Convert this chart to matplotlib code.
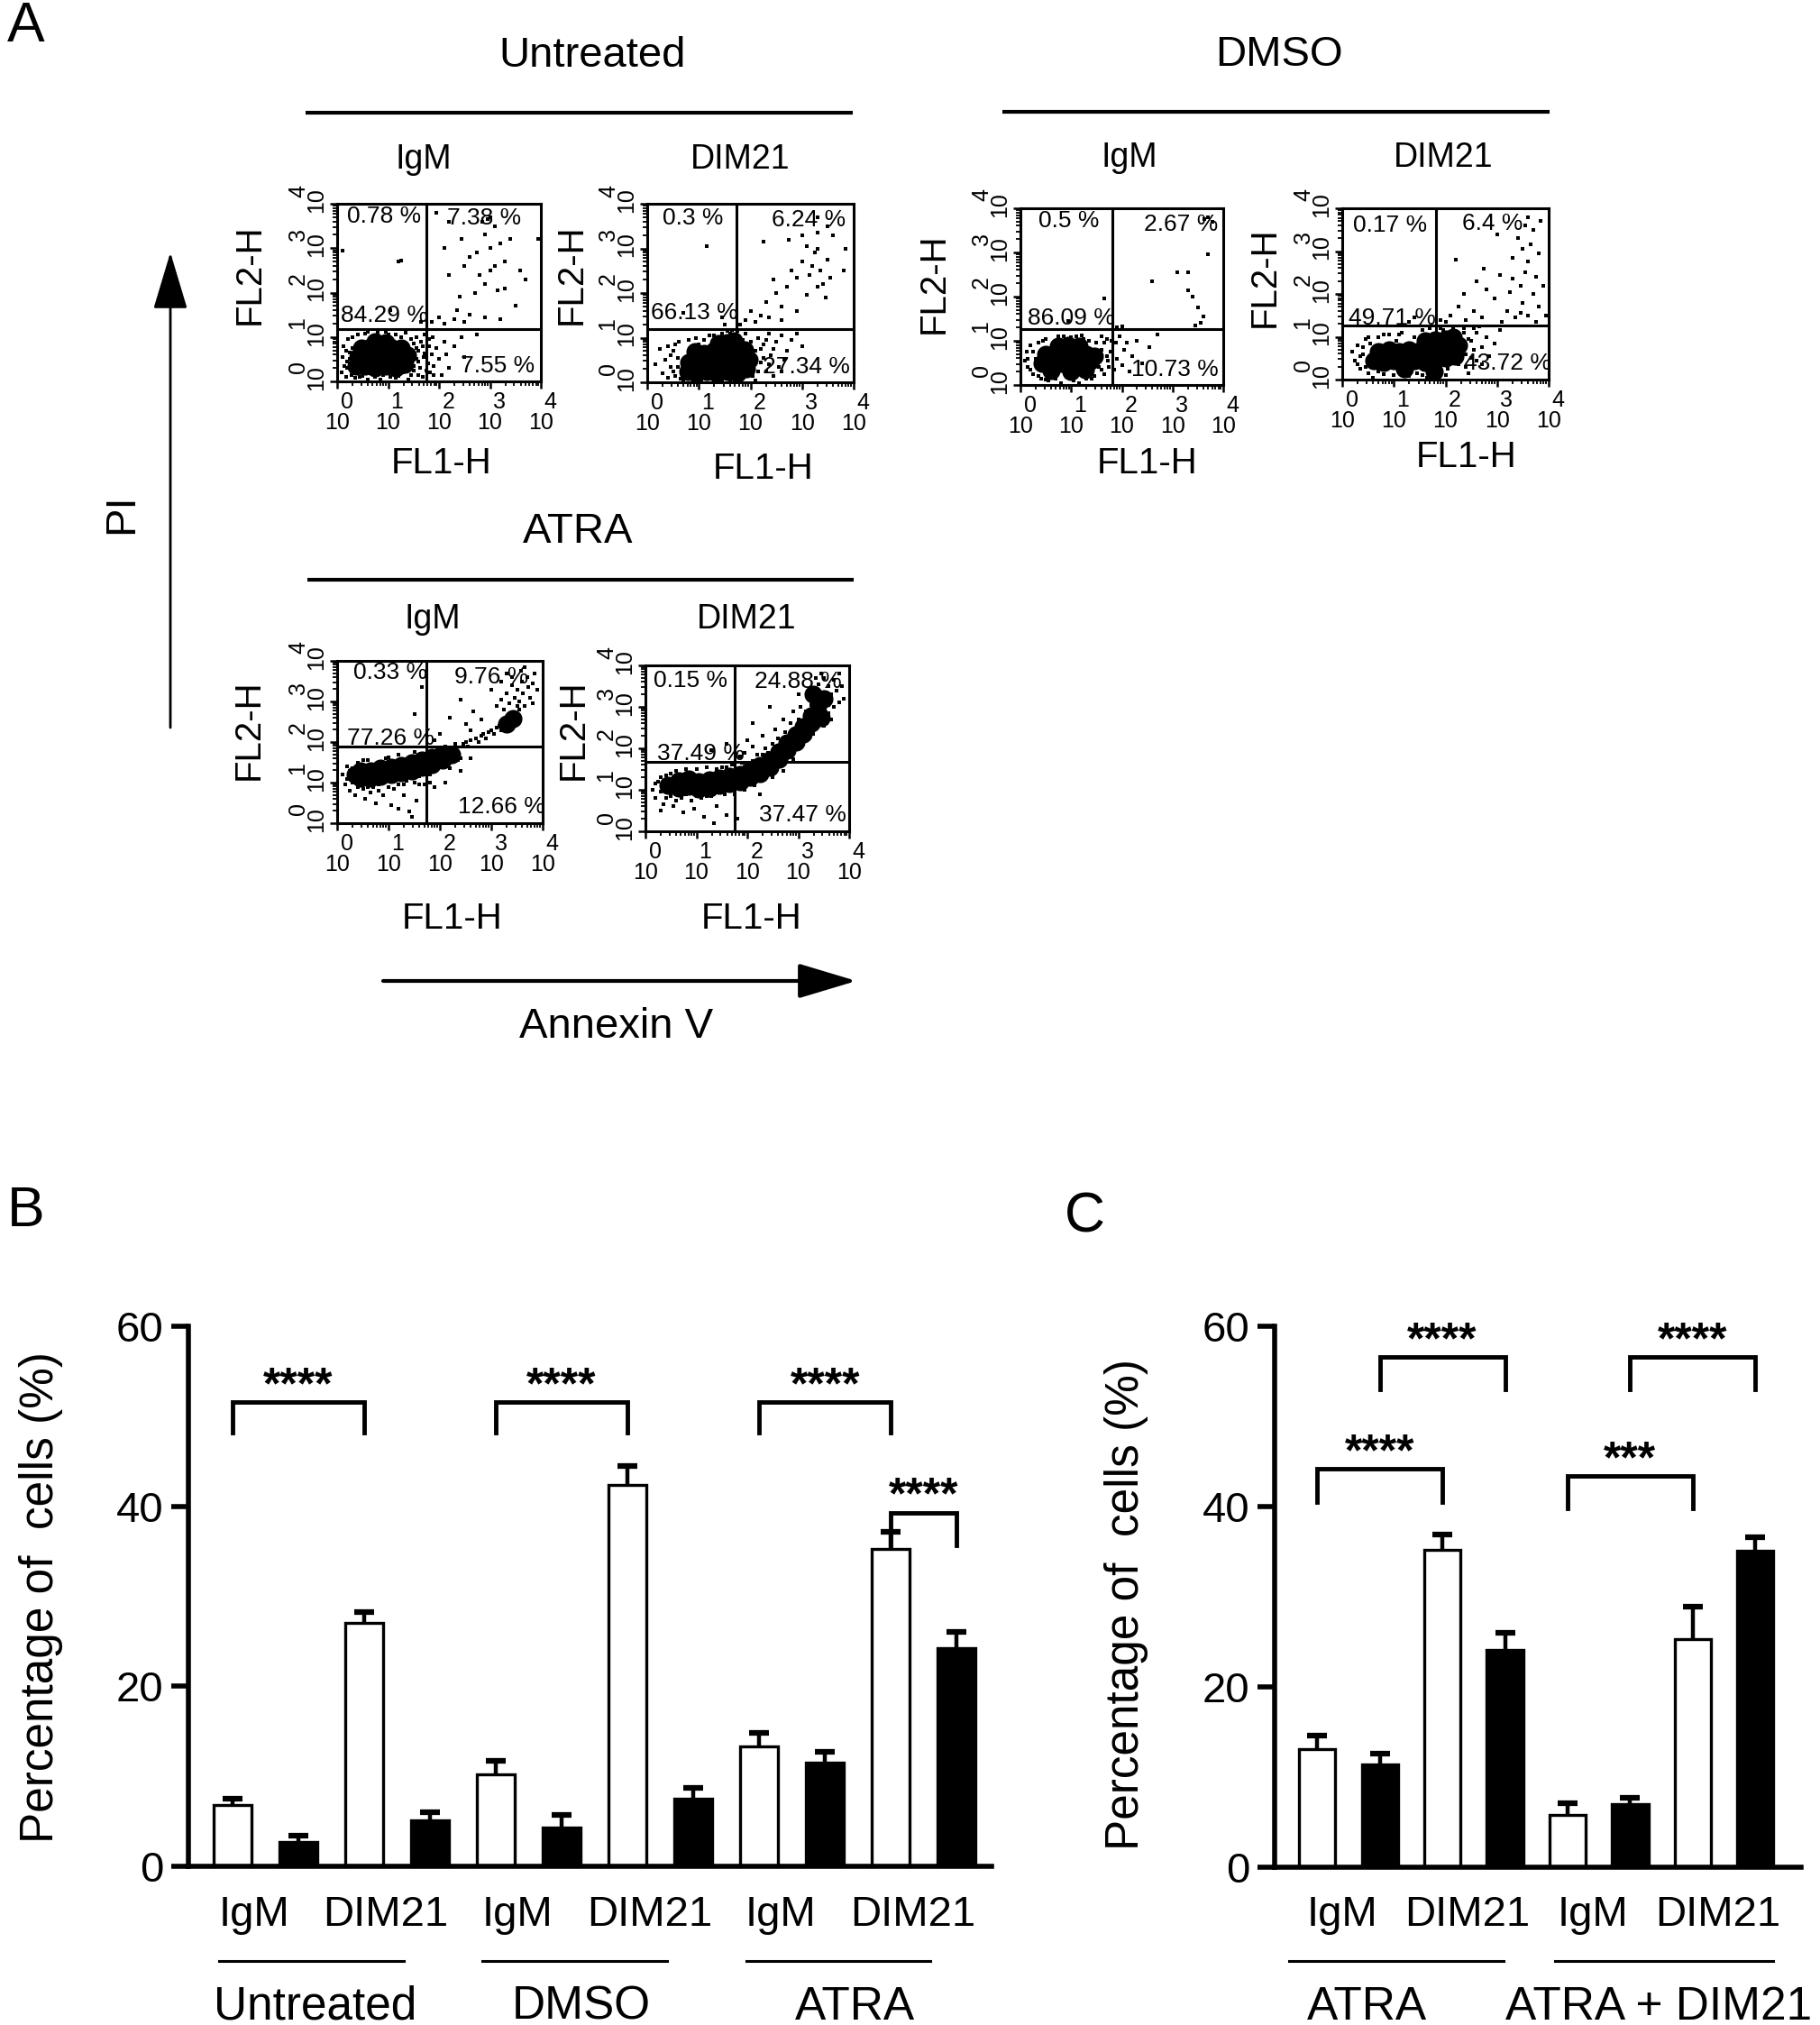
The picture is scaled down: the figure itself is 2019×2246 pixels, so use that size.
import numpy as np
import matplotlib
matplotlib.use("Agg")
import matplotlib.pyplot as plt
from matplotlib.lines import Line2D
from matplotlib.patches import FancyArrowPatch, ArrowStyle
from matplotlib.transforms import blended_transform_factory

plt.rcParams['font.family'] = ['Liberation Sans', 'DejaVu Sans']

W, H = 2019, 2246

# ---------------- panel A: dot plots (log10 units of FL1-H / FL2-H) ----------------
p1_core = [(0.38, 0.35), (0.55, 0.35), (0.75, 0.3), (0.95, 0.35), (1.15, 0.3), (1.32, 0.38),
           (0.4, 0.55), (0.6, 0.58), (0.8, 0.55), (1.0, 0.58), (1.2, 0.55), (1.38, 0.58),
           (0.48, 0.75), (0.65, 0.78), (0.85, 0.75), (1.05, 0.78), (1.25, 0.75),
           (0.75, 0.9), (0.95, 0.88)]
p1_dots = [(0.08, 0.2), (0.1, 0.55), (0.12, 0.8), (0.18, 0.1), (0.2, 0.45), (0.22, 0.95), (0.25, 0.65),
           (0.28, 0.15), (0.3, 1.0), (0.35, 0.08), (0.4, 1.05), (0.5, 0.12), (0.55, 1.08), (0.6, 0.05),
           (0.65, 0.18), (0.75, 0.1), (0.8, 1.1), (0.9, 0.15), (1.0, 1.05), (1.05, 0.1), (1.2, 0.12),
           (1.25, 1.0), (1.3, 0.2), (1.35, 1.1), (1.45, 0.15), (1.5, 0.85), (1.5, 0.25), (1.55, 0.5),
           (1.55, 1.0), (1.6, 0.7), (1.62, 0.3), (1.65, 0.9), (1.68, 0.1), (1.7, 0.55), (1.72, 1.05),
           (1.78, 0.4), (1.8, 0.8), (1.82, 0.2), (1.85, 0.6), (1.88, 1.0), (1.9, 0.35), (1.95, 0.75),
           (2.0, 0.5), (2.05, 0.15), (2.1, 0.9), (2.15, 0.6), (2.3, 0.8), (2.45, 1.0), (2.5, 0.55),
           (2.75, 1.05), (1.75, 0.25), (1.45, 0.45), (0.15, 0.35), (0.3, 0.75), (1.6, 0.15),
           (0.2, 0.3), (0.25, 0.5), (0.3, 0.2), (1.5, 0.35), (1.55, 0.75), (1.45, 0.95), (0.45, 0.1),
           (0.85, 0.05), (1.15, 0.08), (1.4, 0.05), (0.18, 0.7), (1.6, 0.45), (1.68, 0.8), (1.72, 0.62),
           (1.8, 0.95), (1.9, 0.15), (0.6, 1.12), (0.95, 1.12), (1.15, 1.05), (2.2, 0.3),
           (0.1, 2.95), (1.2, 2.7), (1.25, 2.72), (1.05, 1.6), (1.65, 1.35),
           (1.85, 1.35), (2.0, 1.45), (2.1, 1.3), (2.3, 1.4), (2.5, 1.35), (2.6, 1.5), (2.9, 1.45),
           (3.2, 1.4), (2.4, 1.9), (2.7, 2.0), (2.9, 2.2), (3.0, 2.5), (2.8, 2.4), (3.1, 2.6),
           (3.3, 2.7), (2.5, 2.6), (2.2, 2.4), (2.6, 2.8), (3.0, 3.0), (3.2, 3.1), (2.9, 3.3),
           (3.1, 3.5), (2.85, 3.6), (3.4, 3.2), (3.6, 2.5), (3.7, 2.3), (3.95, 3.2), (2.2, 3.6),
           (2.1, 3.0), (3.3, 2.1), (3.5, 1.7), (1.95, 3.8), (3.0, 3.7), (2.95, 3.65), (2.45, 3.2),
           (2.75, 2.9), (3.15, 2.05), (2.35, 1.6)]

p2_core = [(0.78, 0.25), (0.95, 0.2), (1.15, 0.25), (1.35, 0.2), (1.55, 0.25), (1.75, 0.2), (1.92, 0.3),
           (0.8, 0.45), (1.0, 0.48), (1.2, 0.45), (1.4, 0.48), (1.6, 0.45), (1.8, 0.48), (1.98, 0.5),
           (0.92, 0.68), (1.1, 0.65), (1.3, 0.7), (1.5, 0.68), (1.7, 0.7), (1.88, 0.72),
           (1.55, 0.88), (1.68, 0.92), (1.38, 0.86)]
p2_dots = [(0.3, 0.2), (0.35, 0.5), (0.4, 0.1), (0.45, 0.35), (0.5, 0.7), (0.55, 0.15), (0.6, 0.55),
           (0.62, 0.9), (0.7, 0.05), (0.8, 0.95), (0.85, 0.1), (0.95, 1.0), (1.05, 0.05), (1.1, 0.95),
           (1.2, 1.05), (1.25, 0.08), (1.4, 1.0), (1.45, 0.05), (1.6, 1.1), (1.7, 1.05), (1.75, 1.15),
           (1.8, 0.08), (1.85, 0.95), (1.9, 1.1), (2.0, 0.9), (2.05, 0.15), (2.1, 0.7), (2.15, 1.0),
           (2.2, 0.45), (2.25, 0.85), (2.3, 0.25), (2.35, 1.1), (2.4, 0.6), (2.5, 0.9), (2.55, 0.35),
           (2.6, 1.05), (2.7, 0.7), (2.8, 0.95), (2.9, 1.1), (3.0, 0.8), (0.15, 0.4), (0.25, 0.75),
           (2.45, 0.15), (2.65, 0.5), (1.0, 0.85),
           (0.45, 0.6), (0.5, 0.25), (0.55, 0.85), (0.6, 0.35), (0.65, 0.08), (2.15, 0.25), (2.2, 0.75),
           (2.25, 0.55), (2.3, 0.95), (2.35, 0.4), (1.45, 1.1), (1.55, 1.15), (1.65, 1.18), (1.3, 1.05),
           (1.0, 0.05), (1.6, 0.05), (2.1, 0.05), (0.4, 0.8), (2.45, 0.75), (2.6, 0.25),
           (1.15, 3.05), (0.7, 1.55), (1.5, 1.3), (1.45, 1.45),
           (1.8, 1.3), (1.9, 1.4), (2.0, 1.6), (2.1, 1.35), (2.2, 1.5), (2.3, 1.8), (2.35, 1.45),
           (2.5, 2.0), (2.45, 2.3), (2.6, 1.7), (2.7, 2.15), (2.8, 2.5), (2.9, 2.35), (3.0, 2.7),
           (3.0, 3.3), (2.75, 3.2), (3.1, 3.05), (3.3, 3.35), (3.25, 2.9), (3.15, 2.4), (3.35, 2.5),
           (3.4, 2.2), (3.5, 2.75), (3.55, 2.35), (3.6, 3.3), (3.8, 2.5), (3.85, 3.0), (2.25, 3.15),
           (3.2, 2.6), (3.3, 2.15), (3.45, 1.9), (3.1, 1.95), (2.6, 1.4), (2.9, 1.6), (3.3, 3.0),
           (3.5, 3.5), (3.3, 3.7)]

p3_core = [(0.42, 0.5), (0.6, 0.45), (0.8, 0.5), (1.0, 0.45), (1.2, 0.5), (1.38, 0.55),
           (0.5, 0.7), (0.7, 0.72), (0.9, 0.7), (1.1, 0.72), (1.3, 0.7), (1.45, 0.65),
           (0.75, 0.88), (0.95, 0.9), (1.15, 0.88), (0.6, 0.32), (1.0, 0.3), (1.28, 0.35)]
p3_dots = [(0.08, 0.55), (0.12, 0.75), (0.15, 0.4), (0.2, 0.9), (0.25, 0.25), (0.3, 0.6), (0.35, 0.95),
           (0.4, 0.15), (0.5, 1.05), (0.55, 0.1), (0.7, 0.15), (0.75, 1.1), (0.8, 0.05), (0.9, 0.18),
           (1.0, 1.08), (1.05, 0.1), (1.15, 0.05), (1.2, 1.12), (1.3, 0.15), (1.35, 1.0), (1.45, 0.2),
           (1.5, 0.95), (1.55, 0.4), (1.6, 0.8), (1.65, 0.25), (1.7, 1.05), (1.72, 0.55), (1.78, 0.75),
           (1.85, 0.35), (1.88, 0.95), (1.9, 0.6), (1.95, 1.1), (2.0, 0.45), (2.05, 0.8), (2.15, 0.3),
           (2.2, 0.65), (2.3, 1.0), (2.4, 0.5), (2.55, 0.85), (1.1, 0.25), (0.65, 0.2), (1.6, 1.1),
           (2.7, 1.15),
           (0.2, 0.35), (0.25, 0.75), (0.3, 0.45), (0.35, 0.2), (0.45, 1.0), (1.55, 0.6), (1.6, 0.35),
           (1.65, 0.95), (1.7, 0.65), (0.85, 1.1), (1.1, 1.1), (1.4, 0.15), (0.5, 0.12), (1.25, 1.05),
           (1.75, 0.4), (1.8, 1.0), (2.1, 0.95), (0.15, 0.6),
           (0.95, 1.45), (1.65, 1.95),
           (1.9, 1.3), (2.0, 1.32), (2.6, 2.35), (3.1, 2.55), (3.3, 2.15), (3.4, 2.0), (3.7, 2.95),
           (3.5, 1.75), (3.45, 1.35), (3.55, 1.4), (3.6, 1.55), (3.7, 3.8), (3.62, 3.75), (3.78, 3.7),
           (3.3, 2.55)]

p4_core = [(0.62, 0.45), (0.8, 0.4), (1.0, 0.45), (1.2, 0.4), (1.4, 0.45), (1.6, 0.4), (1.8, 0.45),
           (2.0, 0.5), (2.18, 0.55), (0.7, 0.65), (0.9, 0.7), (1.1, 0.65), (1.3, 0.7), (1.5, 0.68),
           (1.7, 0.72), (1.9, 0.7), (2.1, 0.75), (2.25, 0.8), (1.6, 0.9), (1.8, 0.92), (2.0, 0.95),
           (1.78, 0.2), (1.2, 0.25), (2.15, 1.0)]
p4_dots = [(0.2, 0.65), (0.25, 0.45), (0.3, 0.8), (0.35, 0.25), (0.4, 0.6), (0.45, 0.95), (0.5, 0.15),
           (0.55, 0.85), (0.6, 0.05), (0.7, 1.0), (0.8, 0.12), (0.9, 1.05), (1.0, 0.1), (1.05, 0.9),
           (1.15, 1.1), (1.3, 0.08), (1.4, 1.0), (1.45, 0.15), (1.55, 1.15), (1.65, 0.05), (1.7, 1.2),
           (1.8, 0.02), (1.95, 1.15), (2.05, 0.25), (2.15, 1.2), (2.25, 0.35), (2.35, 1.1), (2.4, 0.6),
           (2.5, 0.9), (2.55, 1.2), (2.6, 0.45), (2.7, 0.75), (2.8, 1.0), (2.85, 0.55), (2.95, 0.85),
           (3.05, 1.15), (2.45, 0.15), (0.95, 0.3), (1.35, 0.25), (2.65, 1.25),
           (0.3, 0.35), (0.35, 0.55), (0.4, 0.75), (0.45, 0.3), (0.5, 1.0), (2.4, 0.3), (2.45, 0.95),
           (2.5, 0.5), (2.55, 0.7), (2.6, 1.1), (2.7, 0.35), (2.35, 1.2), (1.9, 1.2), (1.1, 1.05),
           (0.8, 1.05), (1.55, 0.1), (1.85, 0.05), (2.0, 0.1), (1.25, 0.1), (0.7, 0.2),
           (1.3, 1.35), (1.4, 1.45),
           (1.9, 1.4), (2.0, 1.35), (2.1, 1.5), (2.25, 1.7), (2.4, 1.4), (2.55, 1.6), (2.7, 1.45),
           (2.35, 2.0), (2.6, 2.3), (2.75, 2.6), (2.8, 2.1), (2.2, 2.8), (2.95, 1.9), (3.05, 2.45),
           (3.1, 1.35), (3.2, 1.6), (3.25, 2.05), (3.3, 2.85), (3.35, 1.45), (3.4, 3.3), (3.45, 2.2),
           (3.5, 1.8), (3.5, 3.05), (3.55, 2.5), (3.55, 3.6), (3.6, 1.5), (3.6, 2.75), (3.65, 3.15),
           (3.7, 2.0), (3.7, 3.5), (3.75, 2.4), (3.8, 2.95), (3.8, 1.7), (3.85, 3.7), (3.9, 2.2),
           (3.6, 3.8), (3.75, 1.35), (3.45, 1.55), (3.0, 3.4), (3.95, 1.5), (3.3, 2.35)]

p5_core = [(0.45, 1.12), (0.45, 1.28), (0.65, 1.12), (0.65, 1.3), (0.85, 1.15), (0.85, 1.35),
           (1.05, 1.2), (1.05, 1.38), (1.25, 1.25), (1.25, 1.43), (1.45, 1.3), (1.45, 1.48),
           (1.65, 1.38), (1.65, 1.55), (1.85, 1.45), (1.85, 1.62), (2.05, 1.55), (2.05, 1.7),
           (2.22, 1.7), (0.35, 1.2), (3.3, 2.45), (3.42, 2.58)]
p5_dots = [(0.1, 1.2), (0.15, 0.95), (0.2, 1.4), (0.25, 0.8), (0.3, 1.0), (0.35, 0.7), (0.4, 1.5),
           (0.5, 0.85), (0.55, 0.6), (0.6, 1.55), (0.7, 0.9), (0.75, 0.5), (0.8, 0.95), (0.9, 0.7),
           (0.95, 1.6), (1.0, 0.9), (1.05, 0.45), (1.1, 0.85), (1.2, 0.95), (1.3, 0.7), (1.35, 1.05),
           (1.4, 0.3), (1.5, 1.0), (1.55, 0.55), (1.6, 1.15), (1.7, 0.95), (1.75, 1.7), (1.8, 1.2),
           (1.9, 1.3), (1.95, 1.85), (2.0, 1.4), (2.1, 1.9), (2.15, 1.5), (2.3, 1.95), (2.35, 1.55),
           (1.45, 0.15), (1.2, 0.35), (0.65, 0.75),
           (0.2, 1.1), (0.3, 1.35), (0.4, 0.9), (0.5, 1.55), (0.6, 0.9), (0.8, 0.8), (1.0, 1.62),
           (1.2, 1.7), (1.3, 0.95), (1.5, 1.75), (1.6, 0.95), (1.8, 1.0), (2.2, 1.35), (2.4, 1.6),
           (0.9, 1.0), (0.25, 1.3),
           (2.45, 1.95), (2.5, 2.0), (2.55, 1.9), (2.6, 2.05), (2.7, 2.1), (2.75, 2.0), (2.8, 2.15),
           (2.85, 2.2), (2.9, 2.1), (2.95, 2.25), (3.0, 2.3), (3.05, 2.2), (3.1, 2.35), (3.15, 2.4),
           (3.2, 2.3), (3.55, 2.8), (3.5, 2.9),
           (3.1, 2.9), (3.2, 3.05), (3.25, 2.8), (3.3, 3.2), (3.35, 2.95), (3.4, 3.4), (3.45, 3.1),
           (3.5, 3.3), (3.55, 3.0), (3.6, 3.5), (3.62, 3.2), (3.65, 2.9), (3.7, 3.6), (3.72, 3.35),
           (3.75, 3.1), (3.8, 3.45), (3.85, 3.7), (3.9, 3.3), (3.4, 3.6), (3.58, 3.75), (3.3, 3.7),
           (3.65, 3.85), (3.2, 3.5), (3.8, 2.95),
           (2.0, 2.2), (2.2, 2.6), (2.5, 2.45), (2.65, 2.75), (2.8, 2.55), (2.4, 3.05), (3.0, 3.3),
           (2.6, 2.3), (1.9, 2.05), (1.5, 2.7), (1.65, 3.35),
           (1.9, 0.9), (2.1, 1.0), (2.4, 1.3), (2.6, 1.6)]

p6_core = [(0.45, 1.1), (0.65, 1.05), (0.65, 1.22), (0.85, 1.08), (0.85, 1.26), (1.05, 1.02),
           (1.05, 1.2), (1.25, 1.05), (1.25, 1.24), (1.45, 1.1), (1.45, 1.28), (1.65, 1.15),
           (1.65, 1.33), (1.85, 1.2), (1.85, 1.38), (2.05, 1.3), (2.05, 1.48), (2.25, 1.4),
           (2.25, 1.58), (2.45, 1.55), (2.45, 1.72), (2.62, 1.75), (2.62, 1.92), (2.78, 1.95),
           (2.78, 2.12), (2.95, 2.15), (2.95, 2.32), (3.1, 2.35), (3.1, 2.52), (3.25, 2.6),
           (3.25, 2.78), (3.38, 2.9), (3.4, 3.08), (3.45, 2.75), (3.5, 3.2), (3.3, 3.3)]
p6_dots = [(0.15, 1.0), (0.2, 0.8), (0.25, 1.2), (0.3, 0.95), (0.35, 0.65), (0.4, 1.35), (0.5, 0.85),
           (0.55, 0.6), (0.6, 1.45), (0.7, 0.8), (0.75, 0.45), (0.8, 1.5), (0.9, 0.75), (0.95, 0.55),
           (1.0, 1.5), (1.1, 0.8), (1.15, 0.35), (1.2, 1.55), (1.3, 0.85), (1.4, 0.6), (1.5, 1.55),
           (1.55, 0.9), (1.6, 0.4), (1.7, 1.6), (1.75, 0.9), (1.8, 0.3), (1.95, 1.0), (2.0, 1.65),
           (2.15, 1.1), (2.3, 1.25), (2.4, 1.9), (2.55, 1.45), (2.7, 1.6), (2.85, 1.85), (2.25, 0.9),
           (1.35, 0.2), (0.3, 0.5),
           (0.2, 1.15), (0.3, 1.3), (0.4, 0.8), (0.5, 1.4), (0.6, 0.75), (0.8, 0.9), (1.0, 0.85),
           (1.2, 0.85), (1.4, 1.5), (1.6, 1.55), (1.9, 1.65), (2.1, 1.7), (2.3, 1.85), (2.5, 1.3),
           (2.7, 1.45), (2.9, 1.75), (3.0, 2.05), (3.15, 2.25), (3.3, 2.35), (3.5, 2.55), (3.6, 3.05),
           (3.25, 3.45),
           (1.85, 1.8), (1.95, 1.9), (2.0, 2.2), (2.1, 2.05), (2.2, 1.85), (2.3, 2.3), (2.35, 2.0),
           (2.5, 2.1), (2.55, 2.45), (2.6, 2.25), (2.7, 2.7), (2.75, 2.4), (2.85, 2.6), (2.9, 2.9),
           (3.0, 2.7), (3.05, 3.0), (3.15, 2.9), (3.2, 3.2), (3.25, 3.05), (3.3, 3.4), (3.35, 3.25),
           (3.4, 3.55), (3.45, 3.35), (3.5, 3.0), (3.5, 3.7), (3.55, 3.2), (3.6, 2.85), (3.6, 3.5),
           (3.65, 3.3), (3.7, 3.0), (3.7, 3.65), (3.75, 3.4), (3.8, 3.1), (3.8, 3.8), (3.85, 3.5),
           (3.55, 2.6), (3.65, 2.7), (3.3, 2.5), (3.0, 3.3), (2.45, 3.0), (2.1, 2.6), (3.9, 3.2),
           (3.45, 3.8), (3.35, 3.7), (1.3, 1.95), (1.6, 2.1)]

# quadrant gates (log10 units)
gate_x = [1.76, 1.73, 1.81, 1.81, 1.74, 1.76]
gate_y = [1.18, 1.20, 1.26, 1.26, 1.88, 1.68]

# quadrant percentages: upper-left, upper-right, lower-left, lower-right
pct_untreated_igm = ["0.78 %", "7.38 %", "84.29 %", "7.55 %"]
pct_untreated_dim = ["0.3 %", "6.24 %", "66.13 %", "27.34 %"]
pct_dmso_igm = ["0.5 %", "2.67 %", "86.09 %", "10.73 %"]
pct_dmso_dim = ["0.17 %", "6.4 %", "49.71 %", "43.72 %"]
pct_atra_igm = ["0.33 %", "9.76 %", "77.26 %", "12.66 %"]
pct_atra_dim = ["0.15 %", "24.88 %", "37.49 %", "37.47 %"]

# ---------------- panels B / C: bar data ----------------
b_vals = [6.8, 2.7, 27.0, 5.1, 10.2, 4.3, 42.4, 7.5, 13.3, 11.5, 35.3, 24.2]
b_errs = [0.7, 0.7, 1.2, 0.9, 1.5, 1.4, 2.1, 1.2, 1.5, 1.2, 1.9, 1.8]
b_groups = ["Untreated", "DMSO", "ATRA"]
c_vals = [13.1, 11.4, 35.2, 24.1, 5.8, 7.0, 25.3, 35.1]
c_errs = [1.5, 1.2, 1.7, 1.9, 1.3, 0.7, 3.6, 1.5]
c_groups = ["ATRA", "ATRA + DIM21"]
pair_labels = ["IgM", "DIM21"]
# (bar i, bar j, bracket top, bracket foot, stars)
b_sig = [(0, 2, 51.6, 48.2, "****"), (4, 6, 51.6, 48.2, "****"),
         (8, 10, 51.6, 48.2, "****"), (10, 11, 39.3, 35.7, "****")]
c_sig = [(0, 2, 44.2, 40.5, "****"), (1, 3, 56.6, 53.0, "****"),
         (4, 6, 43.4, 39.8, "***"), (5, 7, 56.6, 53.0, "****")]

fig = plt.figure(figsize=(W / 100, H / 100), dpi=100)


def fx(x):
    return x / W


def fy(y):
    return 1 - y / H


def ax_px(x0, y0, x1, y1):
    return fig.add_axes([fx(x0), fy(y1), (x1 - x0) / W, (y1 - y0) / H])


def fig_line(x0, y0, x1, y1, lw):
    fig.add_artist(Line2D([fx(x0), fx(x1)], [fy(y0), fy(y1)], transform=fig.transFigure,
                          color="black", lw=lw, solid_capstyle="butt"))


def fig_text(x, y, s, size, **kw):
    fig.text(fx(x), fy(y), s, fontsize=size, ha="center", va="center", **kw)


def draw_dotplot(ax, core, dots, gx, gy, pcts, pct_pos):
    cx, cy = np.array(core).T
    dx, dy = np.array(dots).T
    ax.scatter(cx, cy, s=210, marker="o", c="black", linewidths=0)
    ax.scatter(dx, dy, s=7, marker="s", c="black", linewidths=0)
    ax.axvline(gx, color="black", lw=2.2)
    ax.axhline(gy, color="black", lw=2.2)
    ax.set_xlim(0, 4)
    ax.set_ylim(0, 4)
    for s in ax.spines.values():
        s.set_linewidth(2.2)
    minor = [np.log10(m) + k for k in range(4) for m in range(2, 10)]
    ax.set_xticks(range(5))
    ax.set_yticks(range(5))
    ax.set_xticks(minor, minor=True)
    ax.set_yticks(minor, minor=True)
    ax.set_xticklabels([f"   {k}\n10" for k in range(5)], fontsize=18, linespacing=0.95)
    ax.set_yticklabels([f"   {k}\n10" for k in range(5)], fontsize=18, linespacing=0.75)
    ax.tick_params(axis="y", labelrotation=90)
    for tl in ax.get_yticklabels():
        tl.set_multialignment("center")
    ax.tick_params(which="major", direction="out", length=6, width=1.8, pad=2)
    ax.tick_params(which="minor", direction="out", length=3.5, width=1.3)
    for txt, (px, py) in zip(pcts, pct_pos):
        ax.text(px, py, txt, transform=ax.transAxes, fontsize=19, ha="center", va="center")


# ---------- panel A ----------
fig_text(29, 29, "A", 45)
fig_text(657, 62, "Untreated", 34)
fig_line(339, 125, 946, 125, 3)
fig_text(1419, 61, "DMSO", 34)
fig_line(1112, 124, 1719, 124, 3)
fig_text(641, 590, "ATRA", 34)
fig_line(341, 643, 947, 643, 3)

for (x, y, s) in [(470, 177, "IgM"), (821, 177, "DIM21"), (1253, 175, "IgM"),
                  (1601, 175, "DIM21"), (480, 687, "IgM"), (828, 687, "DIM21")]:
    fig_text(x, y, s, 27)
for (x, y) in [(277, 304), (634, 304), (1036, 314), (1403, 307), (276, 809), (636, 809)]:
    fig_text(x, y, "FL2-H", 29, rotation=90)
for (x, y) in [(490, 514), (847, 520), (1273, 514), (1627, 507), (502, 1019), (834, 1019)]:
    fig_text(x, y, "FL1-H", 29)

plots = [
    ((374, 226, 600, 423), p1_core, p1_dots, pct_untreated_igm,
     [(0.23, 0.93), (0.72, 0.92), (0.23, 0.37), (0.79, 0.085)]),
    ((718, 226, 947, 424), p2_core, p2_dots, pct_untreated_dim,
     [(0.22, 0.92), (0.78, 0.91), (0.23, 0.39), (0.77, 0.085)]),
    ((1132, 231, 1357, 427), p3_core, p3_dots, pct_dmso_igm,
     [(0.24, 0.93), (0.79, 0.91), (0.25, 0.38), (0.76, 0.085)]),
    ((1489, 231, 1718, 421), p4_core, p4_dots, pct_dmso_dim,
     [(0.23, 0.9), (0.73, 0.91), (0.24, 0.36), (0.8, 0.095)]),
    ((374, 733, 602, 913), p5_core, p5_dots, pct_atra_igm,
     [(0.26, 0.93), (0.75, 0.9), (0.26, 0.52), (0.8, 0.1)]),
    ((716, 738, 942, 922), p6_core, p6_dots, pct_atra_dim,
     [(0.22, 0.91), (0.75, 0.9), (0.27, 0.47), (0.77, 0.1)]),
]
for i, (box, core, dots, pcts, pos) in enumerate(plots):
    ax = ax_px(*box)
    draw_dotplot(ax, core, dots, gate_x[i], gate_y[i], pcts, pos)

# PI / Annexin V arrows
arrow_style = ArrowStyle("-|>", head_length=1.0, head_width=0.3)
fig.add_artist(FancyArrowPatch((fx(189), fy(807)), (fx(189), fy(280)), transform=fig.transFigure,
                               arrowstyle=arrow_style, mutation_scale=40, lw=2, color="black",
                               shrinkA=0, shrinkB=0))
fig_text(135, 570, "PI", 34, rotation=90)
fig.add_artist(FancyArrowPatch((fx(425), fy(1088)), (fx(950), fy(1088)), transform=fig.transFigure,
                               arrowstyle=arrow_style, mutation_scale=40, lw=3, color="black",
                               shrinkA=0, shrinkB=0))
fig_text(684, 1139, "Annexin V", 34)


# ---------- panels B and C ----------
def draw_bars(ax, vals, errs, sig, xlim):
    x = np.arange(len(vals))
    fills = ["white" if i % 2 == 0 else "black" for i in range(len(vals))]
    ax.bar(x, vals, width=0.58, color=fills, edgecolor="black", linewidth=2.4, zorder=2)
    _, caps, _ = ax.errorbar(x, vals, yerr=[np.zeros(len(errs)), errs], fmt="none", ecolor="black",
                             elinewidth=3.2, capsize=8, capthick=4.5, zorder=3)
    for cl in caps:
        if np.allclose(cl.get_ydata(), vals):
            cl.set_visible(False)
    for i, j, top, foot, stars in sig:
        ax.plot([x[i], x[i], x[j], x[j]], [foot, top, top, foot], color="black", lw=3.5,
                clip_on=False, solid_joinstyle="miter", zorder=4)
        ax.text((x[i] + x[j]) / 2, top + 0.4, stars, fontsize=36, fontweight="bold",
                ha="center", va="baseline")
    ax.set_xlim(*xlim)
    ax.set_ylim(0, 60)
    ax.set_yticks([0, 20, 40, 60])
    ax.set_xticks([])
    ax.tick_params(axis="y", labelsize=34, length=14, width=4, pad=6)
    for side in ["top", "right"]:
        ax.spines[side].set_visible(False)
    for side in ["left", "bottom"]:
        ax.spines[side].set_linewidth(4)
    return x


def under_labels(ax, label_x, group_lines, group_x, groups):
    tr = blended_transform_factory(ax.transData, fig.transFigure)
    for k, lx in enumerate(label_x):
        ax.text(lx, fy(2124), pair_labels[k % 2], transform=tr, fontsize=34, ha="center", va="center")
    for (a, b) in group_lines:
        ax.add_line(Line2D([a, b], [fy(2175), fy(2175)], transform=tr, color="black", lw=2.2,
                           clip_on=False))
    for gx, g in zip(group_x, groups):
        ax.text(gx, fy(2226), g, transform=tr, fontsize=37, ha="center", va="center")


axB = ax_px(209, 1471, 1100, 2070)
draw_bars(axB, b_vals, b_errs, b_sig, (-0.67, 11.53))
under_labels(axB, [2 * k + 0.33 for k in range(6)],
             [(4 * g - 0.2, 4 * g + 2.6) for g in range(3)], [1.25, 5.3, 9.45], b_groups)
fig_text(46, 1772, "Percentage of  cells (%)", 37, rotation=90)
fig_text(29, 1343, "B", 45)

axC = ax_px(1414, 1471, 1998, 2071)
draw_bars(axC, c_vals, c_errs, c_sig, (-0.68, 7.73))
under_labels(axC, [2 * k + 0.4 for k in range(4)],
             [(-0.45, 2.98), (3.8, 7.28)], [0.8, 5.45], c_groups)
fig_text(1249, 1780, "Percentage of  cells (%)", 37, rotation=90)
fig_text(1203, 1350, "C", 45)

fig.savefig("out.png", dpi=100)
